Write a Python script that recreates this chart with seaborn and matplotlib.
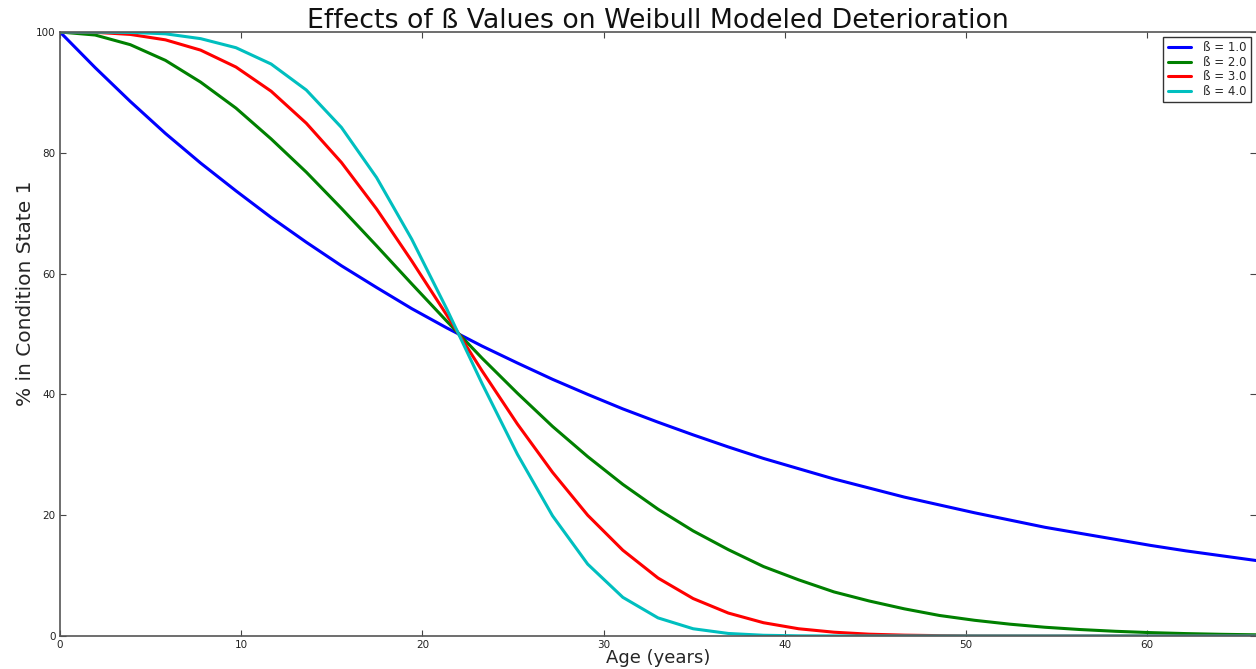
"""
Weibull deterioration curves for several shape values (beta).
"""

import matplotlib
matplotlib.use("Agg")
import matplotlib.pyplot as plt
import pandas as pd
import seaborn as sns

# age in years (35 samples, 0..66)
age = [0, 1.94, 3.88, 5.82, 7.76, 9.71, 11.65, 13.59, 15.53, 17.47, 19.41,
       21.35, 23.29, 25.24, 27.18, 29.12, 31.06, 33.0, 34.94, 36.88, 38.82,
       40.76, 42.71, 44.65, 46.59, 48.53, 50.47, 52.41, 54.35, 56.29, 58.24,
       60.18, 62.12, 64.06, 66.0]

beta_1 = [100, 94.1, 88.5, 83.2, 78.3, 73.7, 69.3, 65.2, 61.3, 57.7, 54.2,
          51.0, 48.0, 45.2, 42.5, 40.0, 37.6, 35.4, 33.3, 31.3, 29.4, 27.7,
          26.0, 24.5, 23.0, 21.7, 20.4, 19.2, 18.0, 17.0, 16.0, 15.0, 14.1,
          13.3, 12.5]
beta_2 = [100, 99.5, 97.9, 95.3, 91.7, 87.4, 82.3, 76.8, 70.8, 64.6, 58.3,
          52.1, 46.0, 40.2, 34.7, 29.7, 25.1, 21.0, 17.4, 14.3, 11.5, 9.3,
          7.3, 5.8, 4.5, 3.4, 2.6, 1.96, 1.45, 1.07, 0.78, 0.56, 0.40, 0.28,
          0.20]
beta_3 = [100, 99.95, 99.6, 98.7, 97.0, 94.2, 90.2, 84.9, 78.4, 70.7, 62.1,
          53.1, 43.9, 35.1, 27.1, 20.0, 14.2, 9.6, 6.2, 3.8, 2.2, 1.2, 0.63,
          0.30, 0.14, 0.06, 0.02, 0.01, 0, 0, 0, 0, 0, 0, 0]
beta_4 = [100, 99.99, 99.93, 99.7, 98.9, 97.4, 94.7, 90.4, 84.2, 75.9, 65.7,
          54.1, 41.8, 30.1, 19.9, 11.9, 6.4, 3.0, 1.2, 0.42, 0.12, 0.03, 0.01,
          0, 0, 0, 0, 0, 0, 0, 0, 0, 0, 0, 0]

labels = ["ß = 1.0", "ß = 2.0", "ß = 3.0", "ß = 4.0"]
colors = ["#0000ff", "#008000", "#ff0000", "#00bfbf"]

frames = []
for lab, vals in zip(labels, [beta_1, beta_2, beta_3, beta_4]):
    frames.append(pd.DataFrame({"Age": age, "Pct": vals, "Beta": lab}))
df = pd.concat(frames, ignore_index=True)

sns.set_style("ticks")
plt.rcParams["font.family"] = ["DejaVu Sans"]

fig = plt.figure(figsize=(12.56, 6.69), dpi=100)
ax = fig.add_axes([60 / 1256, 1 - 636 / 669, 1 - 60 / 1256, (636 - 32) / 669])

sns.lineplot(data=df, x="Age", y="Pct", hue="Beta", palette=colors,
             estimator=None, sort=False, linewidth=2.2, ax=ax)

ax.set_xlim(0, 66)
ax.set_ylim(0, 100)
ax.set_xticks(range(0, 61, 10))
ax.set_yticks(range(0, 101, 20))
ax.tick_params(direction="in", top=True, right=True, length=4, width=0.8,
               pad=3, labelsize=7.5, colors="#444444", labelcolor="#222222")
for side in ["left", "bottom", "top"]:
    ax.spines[side].set_color("#555555")
    ax.spines[side].set_linewidth(1.2)
ax.spines["right"].set_visible(False)

ax.set_xlabel("Age (years)", fontsize=13)
ax.xaxis.set_label_coords(0.5, -0.021)
ax.set_ylabel("% in Condition State 1", fontsize=14.5)
ax.yaxis.set_label_coords(-0.029, 0.568)
ax.yaxis.label.set_va("center")
ax.set_title("Effects of ß Values on Weibull Modeled Deterioration",
             fontsize=19.3, pad=3, color="#111111")

ax.legend(loc="upper right", fontsize=8.5, frameon=True, fancybox=False,
          edgecolor="#333333", handlelength=2.0, handletextpad=1.0,
          labelspacing=0.12, borderaxespad=0.4, framealpha=1)

fig.savefig("out.png", dpi=100)
